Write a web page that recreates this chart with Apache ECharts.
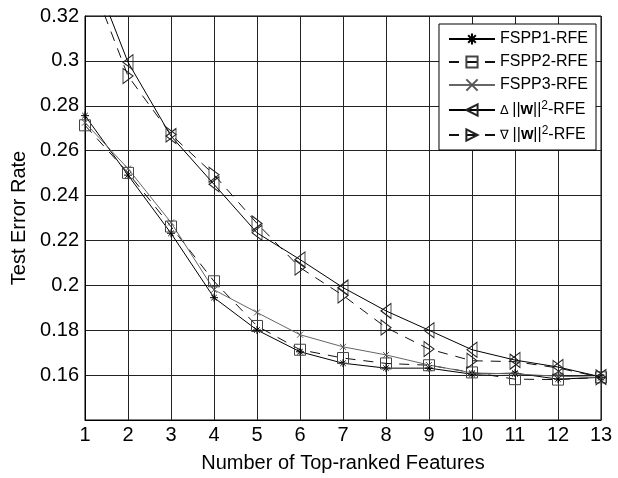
<!DOCTYPE html>
<html>
<head>
<meta charset="utf-8">
<script src="https://cdn.jsdelivr.net/npm/echarts@6/dist/echarts.min.js"></script>
<style>html,body{margin:0;padding:0;background:#fff}#c{width:618px;height:478px}</style>
</head>
<body>
<div id="c"></div>
<script>
const features = [1,2,3,4,5,6,7,8,9,10,11,12,13];
const fspp1 = [0.2756,0.2491,0.2232,0.1945,0.1801,0.1704,0.1653,0.1631,0.1631,0.1604,0.1609,0.1582,0.1590];
const fspp2 = [0.2713,0.2501,0.2262,0.2018,0.1819,0.1713,0.1676,0.1652,0.1644,0.1612,0.1582,0.1580,0.1590];
const fspp3 = [0.2725,0.2520,0.2280,0.1980,0.1879,0.1780,0.1726,0.1690,0.1645,0.1610,0.1605,0.1595,0.1590];
const deltaW = [0.3485,0.2994,0.2665,0.2450,0.2234,0.2115,0.1990,0.1886,0.1800,0.1713,0.1667,0.1636,0.1592];
const nablaW = [0.3430,0.2933,0.2672,0.2493,0.2276,0.2079,0.1955,0.1812,0.1716,0.1664,0.1660,0.1632,0.1590];
const seriesNames = ['FSPP1-RFE','FSPP2-RFE','FSPP3-RFE','DELTA','NABLA'];
const yTicks = [0.16,0.18,0.2,0.22,0.24,0.26,0.28,0.3,0.32];

const FONT = '"Liberation Sans", Arial, Helvetica, sans-serif';
const pair = (arr) => features.map((f,i)=>[f,arr[i]]);

const SYM = {
  star: 'path://M5,0L5,10M0,5L10,5M1.6,1.6L8.4,8.4M8.4,1.6L1.6,8.4',
  cross: 'path://M0,0L10,10M10,0L0,10',
  left: 'path://M0,5L10,0L10,10Z',
  right: 'path://M0,0L10,5L0,10Z'
};

function mk(name, data, symbol, size, dashed, lineColor, symColor) {
  return {
    name, type: 'line', data: pair(data),
    symbol, symbolSize: size, showSymbol: true,
    clip: true, animation: false,
    lineStyle: { color: lineColor, width: 1, type: dashed ? [10,8] : 'solid' },
    itemStyle: { color: 'rgba(0,0,0,0)', borderColor: symColor, borderWidth: 1 },
    emphasis: { disabled: true },
    z: 3
  };
}

const chart = echarts.init(document.getElementById('c'), null, {renderer: 'canvas'});
chart.setOption({
  animation: false,
  backgroundColor: '#fff',
  grid: { left: 85, right: 17, top: 16, bottom: 57, show: true, borderColor: '#000', borderWidth: 1, backgroundColor: 'transparent' },
  xAxis: {
    type: 'value', min: 1, max: 13, interval: 1,
    name: 'Number of Top-ranked Features', nameLocation: 'middle', nameGap: 33,
    nameTextStyle: { fontFamily: FONT, fontSize: 20, color: '#000' },
    axisLine: { show: true, lineStyle: { color: '#000', width: 1 } },
    axisTick: { show: false },
    axisLabel: { fontFamily: FONT, fontSize: 20, color: '#000', margin: 5 },
    splitLine: { show: true, lineStyle: { color: '#222', width: 1 } }
  },
  yAxis: {
    type: 'value', min: 0.14, max: 0.32, interval: 0.02,
    name: 'Test Error Rate', nameLocation: 'middle', nameGap: 50,
    nameTextStyle: { fontFamily: FONT, fontSize: 20, color: '#000' },
    axisLine: { show: true, lineStyle: { color: '#000', width: 1 } },
    axisTick: { show: false },
    axisLabel: {
      fontFamily: FONT, fontSize: 20, color: '#000', margin: 6,
      formatter: (v) => {
        const r = Math.round(v*100)/100;
        return yTicks.some(t => Math.abs(t - r) < 1e-9) ? String(r) : '';
      }
    },
    splitLine: { show: true, lineStyle: { color: '#222', width: 1 } }
  },
  legend: {
    orient: 'vertical', right: 22, top: 24,
    backgroundColor: '#fff', borderColor: '#000', borderWidth: 1,
    padding: [7, 8, 7, 9], itemGap: 7, itemWidth: 46, itemHeight: 14,
    data: seriesNames,
    textStyle: {
      fontFamily: FONT, fontSize: 16, color: '#000',
      rich: {
        a: { fontFamily: FONT, fontSize: 16, color: '#000' },
        g: { fontFamily: FONT, fontSize: 13, color: '#000' },
        b: { fontFamily: FONT, fontSize: 16, fontWeight: 'bold', color: '#000' },
        s: { fontFamily: FONT, fontSize: 12, color: '#000', padding: [0,0,8,0] }
      }
    },
    formatter: (n) => {
      if (n === 'DELTA') return '{g|Δ }{a|||}{b|w}{a|||}{s|2}{a|-RFE}';
      if (n === 'NABLA') return '{g|∇ }{a|||}{b|w}{a|||}{s|2}{a|-RFE}';
      return n;
    }
  },
  series: [
    mk('FSPP1-RFE', fspp1, SYM.star, 8, false, '#000', '#000'),
    mk('FSPP2-RFE', fspp2, 'rect', 11, true, '#111', '#444'),
    mk('FSPP3-RFE', fspp3, SYM.cross, 6, false, '#666', '#555'),
    mk('DELTA', deltaW, SYM.left, [10,15], false, '#000', '#222'),
    mk('NABLA', nablaW, SYM.right, [10,15], true, '#111', '#222')
  ]
});
</script>
</body>
</html>
